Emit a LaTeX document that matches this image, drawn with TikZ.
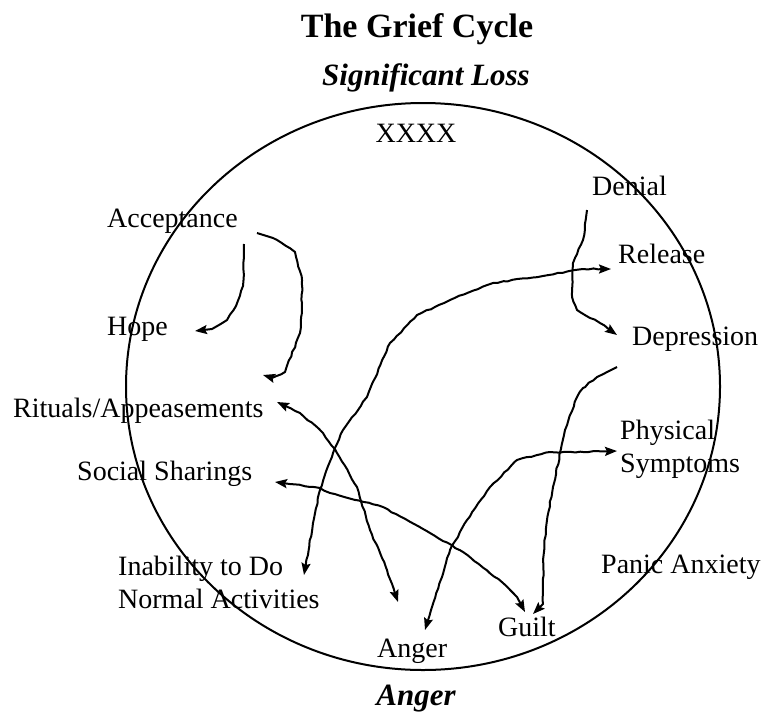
\documentclass[tikz,border=0pt]{standalone}
\usepackage{fontspec}
\setmainfont{Liberation Serif}
\usetikzlibrary{arrows.meta,decorations.pathmorphing}

\tikzset{
  lbl/.style={font=\fontsize{28}{33}\selectfont, inner sep=0pt, anchor=base west},
  heading/.style={inner sep=0pt, anchor=base, font=\fontsize{34}{40}\selectfont\bfseries},
  subheading/.style={inner sep=0pt, anchor=base, font=\fontsize{31}{36}\selectfont\bfseries\itshape},
  wig/.style={line width=2pt, line join=round, decorate,
    decoration={random steps, segment length=5pt, amplitude=0.6pt, pre length=10pt, post length=10pt}},
  tip/.style={arrows={-Stealth[length=12pt,width=9pt,inset=2pt]}},
  tips/.style={arrows={Stealth[length=12pt,width=9pt,inset=2pt]-Stealth[length=12pt,width=9pt,inset=2pt]}},
}

\begin{document}
\begin{tikzpicture}[x=1pt,y=-1pt]
  \pgfmathsetseed{7}
  \useasboundingbox (0,0) rectangle (762,712);
  \draw[line width=2pt] (423,386.5) ellipse [x radius=297pt, y radius=283.5pt];
  \node[heading] (title) at (417,37) {The Grief Cycle};
  \node[subheading] (loss) at (426,85) {Significant Loss};
  \node[subheading] (angerbottom) at (416,705) {Anger};
  \node[lbl, anchor=base] (xxxx) at (416,142) {XXXX};
  \node[lbl] (denial) at (592,195) {Denial};
  \node[lbl] (acceptance) at (107,227) {Acceptance};
  \node[lbl] (release) at (618,263) {Release};
  \node[lbl] (hope) at (107,335) {Hope};
  \node[lbl] (depression) at (632,345) {Depression};
  \node[lbl] (rituals) at (13,417) {Rituals/Appeasements};
  \node[lbl, align=left] (physical) at (620,472) {Physical\\Symptoms};
  \node[lbl] (social) at (77,480) {Social Sharings};
  \node[lbl, align=left] (inability) at (118,608) {Inability to Do\\Normal Activities};
  \node[lbl] (panic) at (601,573) {Panic Anxiety};
  \node[lbl] (guilt) at (498,636) {Guilt};
  \node[lbl] (anger) at (377,657) {Anger};

  \coordinate (acc-a) at (244,244);
  \coordinate (hope-t) at (195,331);
  \coordinate (acc-b) at (257,233);
  \coordinate (rit-t) at (263,375);
  \coordinate (den-a) at (587,210);
  \coordinate (dep-t) at (617,335);
  \coordinate (inab-t) at (304,575);
  \coordinate (rel-t) at (611,269);
  \coordinate (dep-a) at (617,367);
  \coordinate (guilt-t) at (533,614);
  \coordinate (anger-t) at (425,630);
  \coordinate (phys-t) at (617,451);
  \coordinate (soc-t) at (275,482);
  \coordinate (guilt-s) at (525,612);
  \coordinate (rit-s) at (277,402);
  \coordinate (anger-s) at (398,602);

  \draw[wig, tip] (acc-a) -- (243,286) -- (236,306) -- (227,320) -- (212,329) -- (hope-t);
  \draw[wig, tip] (acc-b) -- (273,238) -- (295,252) -- (302,280) -- (302,303) -- (300,333) -- (285,372) -- (272,378) -- (rit-t);
  \draw[wig, tip] (den-a) -- (583,240) -- (573,263) -- (572,297) -- (577,310) -- (600,323) -- (dep-t);
  \draw[wig, tips] (inab-t) -- (313,523) -- (320,490) -- (333,453) -- (343,430) -- (367,397) -- (390,343) -- (417,315) -- (450,300) -- (493,283) -- (543,276) -- (583,269) -- (rel-t);
  \draw[wig, tip] (dep-a) -- (597,377) -- (583,388) -- (577,397) -- (565,430) -- (553,487) -- (547,520) -- (543,560) -- (543,604) -- (guilt-t);
  \draw[wig, tips] (anger-t) -- (432,607) -- (442,577) -- (450,550) -- (467,520) -- (490,487) -- (517,460) -- (550,452) -- (583,452) -- (phys-t);
  \draw[wig, tips] (soc-t) -- (320,488) -- (330,493) -- (383,507) -- (430,533) -- (463,552) -- (503,583) -- (517,597) -- (guilt-s);
  \draw[wig, tips] (rit-s) -- (300,413) -- (323,433) -- (337,453) -- (357,487) -- (370,530) -- (387,570) -- (anger-s);
\end{tikzpicture}
\end{document}
